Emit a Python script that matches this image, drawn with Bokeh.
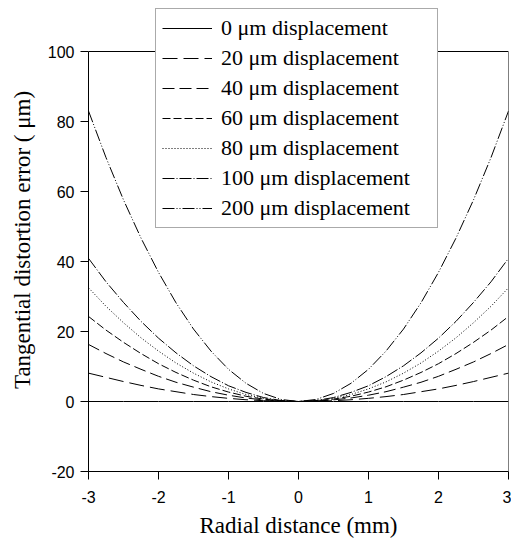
from bokeh.plotting import figure
from bokeh.models import Range1d, FixedTicker, Legend, LegendItem, CustomJSTickFormatter
from bokeh.embed import file_html
from bokeh.resources import INLINE

# half-profile x values (mm), curves are symmetric about x = 0
x_half = [0, 0.25, 0.5, 0.75, 1.0, 1.25, 1.5, 1.75, 2.0, 2.25, 2.5, 2.75, 3.0]
d0 = [0, 0, 0, 0, 0, 0, 0, 0, 0, 0, 0, 0, 0]
d20 = [0, 0.06, 0.23, 0.5, 0.9, 1.4, 2.0, 2.8, 3.6, 4.6, 5.7, 6.9, 8.1]
d40 = [0, 0.11, 0.46, 1.0, 1.8, 2.8, 4.1, 5.5, 7.2, 9.2, 11.3, 13.7, 16.3]
d60 = [0, 0.17, 0.68, 1.5, 2.7, 4.2, 6.1, 8.3, 10.8, 13.7, 16.9, 20.4, 24.3]
d80 = [0, 0.23, 0.9, 2.0, 3.6, 5.6, 8.1, 11.0, 14.4, 18.2, 22.5, 27.2, 32.5]
d100 = [0, 0.28, 1.13, 2.6, 4.5, 7.1, 10.2, 13.9, 18.1, 22.9, 28.3, 34.2, 40.9]
d200 = [0, 0.58, 2.3, 5.2, 9.2, 14.4, 20.7, 28.2, 36.9, 46.7, 57.6, 69.7, 83.0]

labels = ["0 \u03bcm displacement", "20 \u03bcm displacement", "40 \u03bcm displacement",
          "60 \u03bcm displacement", "80 \u03bcm displacement", "100 \u03bcm displacement",
          "200 \u03bcm displacement"]
series = [d0, d20, d40, d60, d80, d100, d200]
dashes = ["solid", "15 6", "12 5", "8 3", "1 2", "12 2 1 2", "12 2 1 2 1 2"]

x_ticks = [-3, -2, -1, 0, 1, 2, 3]
y_ticks = [-20, 0, 20, 40, 60, 80, 100]
x_lim = (-3, 3)
y_lim = (-20, 100)

FRAME_TOP = 8
FRAME_BOTTOM = 471
PX_PER_UNIT = (FRAME_BOTTOM - 51) / (y_lim[1] - y_lim[0])
y_top = y_lim[0] + (FRAME_BOTTOM - FRAME_TOP) / PX_PER_UNIT

p = figure(width=511, height=542, output_backend="svg", toolbar_location=None,
           x_range=Range1d(*x_lim), y_range=Range1d(y_lim[0], y_top),
           min_border_left=88, min_border_right=3, min_border_top=FRAME_TOP,
           min_border_bottom=542 - FRAME_BOTTOM)

x_full = [-v for v in x_half[::-1]] + x_half[1:]
items = []
for lab, ys, dash in zip(labels, series, dashes):
    y_full = ys[::-1] + ys[1:]
    r = p.line(x_full, y_full, line_color="black", line_width=1, line_dash=dash)
    items.append(LegendItem(label=lab, renderers=[r]))

# plot box: top and right borders (axes give left and bottom)
p.segment(x0=[x_lim[0], x_lim[1]], y0=[y_lim[1], y_lim[0]],
          x1=[x_lim[1], x_lim[1]], y1=[y_lim[1], y_lim[1]],
          line_color="black", line_width=1)

p.xgrid.visible = False
p.ygrid.visible = False
p.outline_line_color = None
p.background_fill_color = "white"
p.border_fill_color = "white"

fmt = CustomJSTickFormatter(code="return String(tick);")
for ax in (p.xaxis[0], p.yaxis[0]):
    ax.minor_tick_line_color = None
    ax.major_tick_in = 0
    ax.major_tick_out = 8
    ax.axis_line_color = "black"
    ax.major_tick_line_color = "black"
    ax.major_label_text_font = "Liberation Sans"
    ax.major_label_text_font_size = "16px"
    ax.major_label_text_color = "black"
    ax.axis_label_text_font = "Liberation Serif"
    ax.axis_label_text_font_size = "23px"
    ax.axis_label_text_font_style = "normal"
    ax.axis_label_text_color = "black"
    ax.formatter = fmt

p.xaxis[0].ticker = FixedTicker(ticks=x_ticks)
p.yaxis[0].ticker = FixedTicker(ticks=y_ticks)
p.yaxis[0].bounds = y_lim
p.xaxis[0].axis_label = "Radial distance (mm)"
p.yaxis[0].axis_label = "Tangential distortion error ( \u03bcm)"
p.xaxis[0].major_label_standoff = 11
p.yaxis[0].major_label_standoff = 6
p.xaxis[0].axis_label_standoff = 7
p.yaxis[0].axis_label_standoff = 10

legend = Legend(items=items, location=(67, 243), orientation="vertical",
                label_text_font="Liberation Serif", label_text_font_size="22px",
                label_text_color="black", glyph_width=50, glyph_height=20,
                label_height=20, label_width=210, label_standoff=9, spacing=4,
                padding=6, margin=0, border_line_color="#555555", border_line_width=1,
                background_fill_color="white", background_fill_alpha=1.0)
p.add_layout(legend, "center")

open("out.html", "w").write(file_html(p, INLINE))
